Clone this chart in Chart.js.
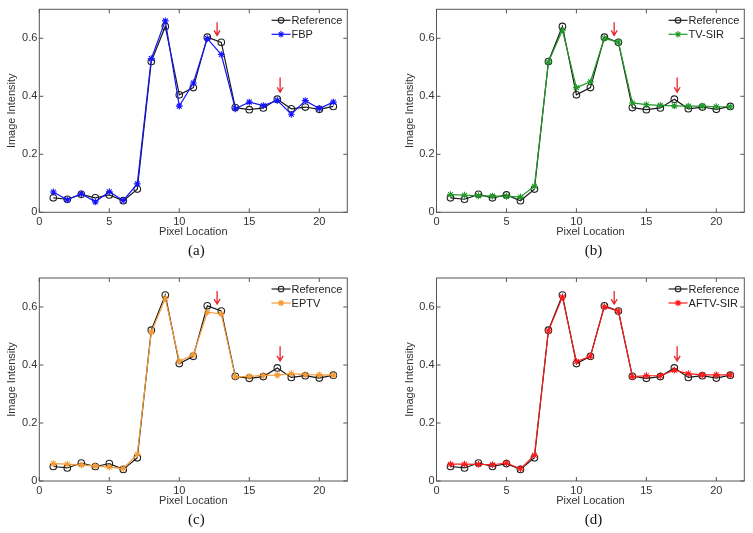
<!DOCTYPE html>
<html><head><meta charset="utf-8">
<script src="https://cdn.jsdelivr.net/npm/chart.js@4.4.1/dist/chart.umd.min.js"></script>
<style>
html,body{margin:0;padding:0;background:#fff;width:753px;height:533px;overflow:hidden;position:relative;}
canvas{position:absolute;}
</style></head><body>
<canvas id="pa" width="376" height="266" style="left:0px;top:0px"></canvas>
<canvas id="pb" width="377" height="266" style="left:376px;top:0px"></canvas>
<canvas id="pc" width="376" height="267" style="left:0px;top:266px"></canvas>
<canvas id="pd" width="377" height="267" style="left:376px;top:266px"></canvas>
<script>
// ---- data ----
const pixelLocation = [1,2,3,4,5,6,7,8,9,10,11,12,13,14,15,16,17,18,19,20,21];
const reference = [0.050,0.045,0.062,0.050,0.060,0.040,0.080,0.520,0.641,0.405,0.430,0.604,0.586,0.361,0.354,0.360,0.390,0.357,0.363,0.355,0.365];
const fbp      = [0.070,0.043,0.064,0.036,0.071,0.041,0.098,0.530,0.660,0.366,0.446,0.599,0.544,0.357,0.380,0.368,0.386,0.338,0.385,0.358,0.380];
const tvSir    = [0.061,0.059,0.057,0.056,0.055,0.053,0.090,0.518,0.628,0.430,0.450,0.600,0.587,0.377,0.371,0.369,0.367,0.366,0.366,0.364,0.364];
const eptv     = [0.060,0.058,0.055,0.052,0.048,0.043,0.092,0.513,0.630,0.413,0.435,0.582,0.576,0.359,0.361,0.364,0.365,0.370,0.367,0.366,0.365];
const aftvSir  = [0.058,0.058,0.057,0.056,0.062,0.042,0.089,0.518,0.634,0.412,0.430,0.601,0.586,0.360,0.363,0.363,0.382,0.370,0.366,0.366,0.366];
const xTicks = [0,5,10,15,20];
const yTicks = [0,0.2,0.4,0.6];
const arrowMarks = [{x:12.7,from:0.655,to:0.61},{x:17.2,from:0.465,to:0.414}];
const referenceName = 'Reference';

const panels = [
  {id:'pa', name:'FBP',      color:'#1414ff', values:fbp,     caption:'(a)', pad:{left:0,   right:28.7,top:9.3,bottom:3.7}},
  {id:'pb', name:'TV-SIR',   color:'#229a2a', values:tvSir,   caption:'(b)', pad:{left:21.2,right:8.7, top:9.3,bottom:3.7}},
  {id:'pc', name:'EPTV',     color:'#f59b35', values:eptv,    caption:'(c)', pad:{left:0,   right:28.7,top:12, bottom:2}},
  {id:'pd', name:'AFTV-SIR', color:'#ff1a1a', values:aftvSir, caption:'(d)', pad:{left:21.2,right:8.7, top:12, bottom:2}}
];

const SANS = "'Liberation Sans', Arial, sans-serif";
const SERIF = "'Liberation Serif', 'Times New Roman', serif";

function drawMarker(ctx, style, x, y, r, color) {
  ctx.save();
  ctx.strokeStyle = color; ctx.lineWidth = 1.1;
  ctx.beginPath();
  if (style === 'circle') {
    ctx.arc(x, y, r, 0, Math.PI*2);
  } else {
    ctx.moveTo(x-r, y); ctx.lineTo(x+r, y);
    ctx.moveTo(x, y-r); ctx.lineTo(x, y+r);
    const d = r*0.707;
    ctx.moveTo(x-d, y-d); ctx.lineTo(x+d, y+d);
    ctx.moveTo(x-d, y+d); ctx.lineTo(x+d, y-d);
  }
  ctx.stroke();
  ctx.restore();
}

const decor = {
  id: 'decor',
  afterDraw(chart, args, opts) {
    const ctx = chart.ctx, a = chart.chartArea;
    const xs = chart.scales.x, ys = chart.scales.y;
    ctx.save();
    // box
    ctx.strokeStyle = '#555'; ctx.lineWidth = 1;
    ctx.strokeRect(a.left, a.top, a.right - a.left, a.bottom - a.top);
    // inward ticks
    ctx.beginPath();
    xs.ticks.forEach(t => {
      const p = xs.getPixelForValue(t.value);
      ctx.moveTo(p, a.bottom); ctx.lineTo(p, a.bottom - 4);
      ctx.moveTo(p, a.top); ctx.lineTo(p, a.top + 4);
    });
    ys.ticks.forEach(t => {
      const p = ys.getPixelForValue(t.value);
      ctx.moveTo(a.left, p); ctx.lineTo(a.left + 4, p);
      ctx.moveTo(a.right, p); ctx.lineTo(a.right - 4, p);
    });
    ctx.stroke();
    // arrows
    ctx.strokeStyle = '#e8262c'; ctx.lineWidth = 1.3;
    arrowMarks.forEach(m => {
      const px = xs.getPixelForValue(m.x);
      const y1 = ys.getPixelForValue(m.from), y2 = ys.getPixelForValue(m.to);
      ctx.beginPath();
      ctx.moveTo(px, y1); ctx.lineTo(px, y2);
      ctx.moveTo(px - 3, y2 - 5); ctx.lineTo(px, y2); ctx.lineTo(px + 3, y2 - 5);
      ctx.stroke();
    });
    // legend
    ctx.font = '11px ' + SANS;
    ctx.textBaseline = 'middle'; ctx.textAlign = 'left';
    const items = [
      {text: referenceName, color:'#222', style:'circle'},
      {text: opts.name, color: opts.color, style:'star'}
    ];
    const maxW = Math.max(...items.map(i => ctx.measureText(i.text).width));
    const textX = a.right - 5 - maxW;
    items.forEach((it, i) => {
      const y = a.top + 11 + i*14;
      ctx.strokeStyle = it.color; ctx.lineWidth = 1.2;
      ctx.beginPath(); ctx.moveTo(textX - 20, y); ctx.lineTo(textX - 1, y); ctx.stroke();
      drawMarker(ctx, it.style, textX - 10.5, y, it.style === 'circle' ? 2.8 : 3.2, it.color);
      ctx.fillStyle = '#222';
      ctx.fillText(it.text, textX, y + 0.5);
    });
    // caption
    ctx.font = '15px ' + SERIF;
    ctx.textAlign = 'center';
    ctx.fillStyle = '#111';
    ctx.fillText(opts.caption, (a.left + a.right)/2 + 3, a.bottom + 39);
    ctx.restore();
  }
};

panels.forEach(p => {
  new Chart(document.getElementById(p.id), {
    type: 'line',
    data: {
      datasets: [
        {
          label: p.name,
          data: pixelLocation.map((x, i) => ({x, y: p.values[i]})),
          borderColor: p.color, backgroundColor: 'rgba(0,0,0,0)',
          borderWidth: 1.2, pointStyle: 'star', pointRadius: 3.4,
          pointBorderColor: p.color, pointBorderWidth: 1.1,
          tension: 0, order: 0
        },
        {
          label: referenceName,
          data: pixelLocation.map((x, i) => ({x, y: reference[i]})),
          borderColor: '#1a1a1a', backgroundColor: 'rgba(0,0,0,0)',
          borderWidth: 1.2, pointStyle: 'circle', pointRadius: 3.3,
          pointBorderColor: '#222', pointBackgroundColor: 'rgba(0,0,0,0)', pointBorderWidth: 1.1,
          tension: 0, order: 1
        }
      ]
    },
    options: {
      responsive: false, animation: false, devicePixelRatio: 1,
      layout: {padding: p.pad, autoPadding: false},
      plugins: {legend: {display: false}, tooltip: {enabled: false}, decor: {name: p.name, color: p.color, caption: p.caption}},
      scales: {
        x: {
          type: 'linear', min: 0, max: 22,
          afterBuildTicks: s => { s.ticks = xTicks.map(v => ({value: v})); },
          afterFit: s => { s.height = 50; },
          grid: {display: false, drawTicks: false}, border: {display: false},
          ticks: {color: '#333', font: {family: SANS, size: 11}, padding: 3, maxRotation: 0, autoSkip: false},
          title: {display: true, text: 'Pixel Location', color: '#333', font: {family: SANS, size: 11}, padding: {top: 0, bottom: 23.4}}
        },
        y: {
          type: 'linear', min: 0, max: 0.7,
          afterBuildTicks: s => { s.ticks = yTicks.map(v => ({value: v})); },
          afterFit: s => { s.width = 39.3; },
          grid: {display: false, drawTicks: false}, border: {display: false},
          ticks: {color: '#333', font: {family: SANS, size: 11}, padding: 2, autoSkip: false},
          title: {display: true, text: 'Image Intensity', color: '#333', font: {family: SANS, size: 11}, padding: {top: 5.7, bottom: 0}}
        }
      }
    },
    plugins: [decor]
  });
});
</script>
</body></html>
